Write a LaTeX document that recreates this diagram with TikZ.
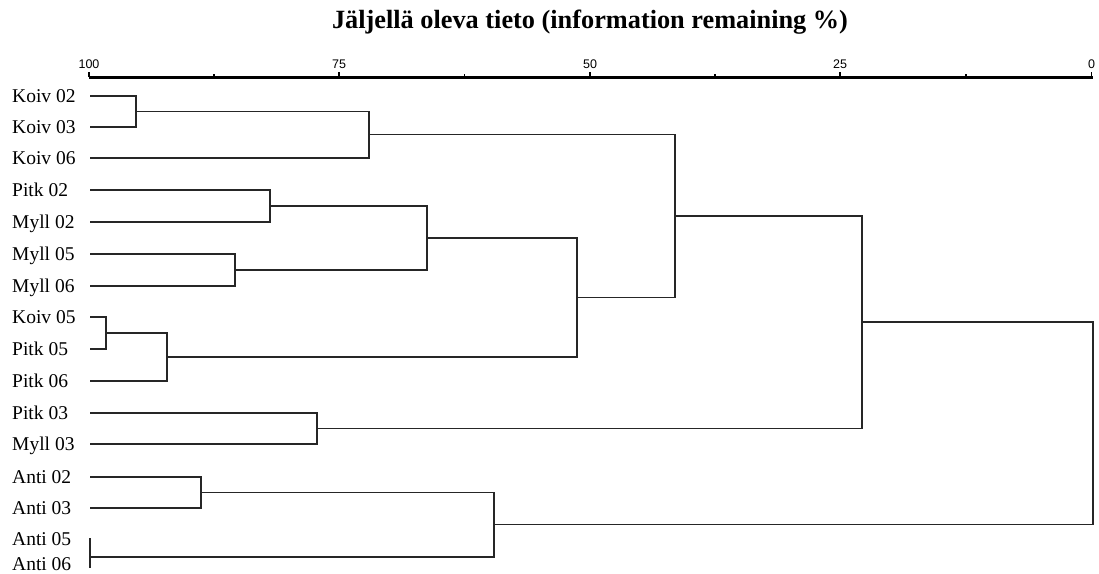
\documentclass[tikz,border=0pt]{standalone}
\usepackage{fontspec}
\setmainfont{Liberation Serif}
\newfontfamily\axisfont{Liberation Sans}
\begin{document}
\begin{tikzpicture}[x=1pt,y=-1pt,
  link/.style={draw=black!85,line width=1.4pt},
  leaflabel/.style={anchor=base west,inner sep=0pt,font=\fontsize{19.5}{19.5}\selectfont},
  ticklabel/.style={anchor=base,inner sep=0pt,font=\axisfont\fontsize{12.5}{12.5}\selectfont},
  titlelabel/.style={anchor=base,inner sep=0pt,font=\bfseries\fontsize{26.3}{26.3}\selectfont}]
\useasboundingbox (0,0) rectangle (1099,573);
% title
\node[titlelabel] (title) at (590,28) {Jäljellä oleva tieto (information remaining \%)};
% axis
\coordinate (ax0) at (89,77);
\coordinate (ax1) at (1093,77);
\draw[line width=3pt] (ax0) -- (ax1);
\foreach \x/\l [count=\i] in {89/100,339/75,590/50,840/25,1091.5/0}{
  \draw[line width=1.4pt] (\x,77) -- (\x,71.5);
  \node[ticklabel] (t\i) at (\x,68) {\l};
}
\foreach \x in {214,464.5,715,966}{
  \draw[line width=1.8pt] (\x,77) -- (\x,73.5);
}
% leaves
\foreach \n/\y/\t in {k2/96/Koiv 02,k3/127/Koiv 03,k6/158/Koiv 06,p2/190/Pitk 02,m2/222/Myll 02,
  m5/254/Myll 05,m6/286/Myll 06,k5/317/Koiv 05,p5/349/Pitk 05,p6/381/Pitk 06,
  p3/413/Pitk 03,m3/444/Myll 03,a2/477/Anti 02,a3/508/Anti 03}{
  \coordinate (\n) at (90,\y);
  \node[leaflabel] (L\n) at (12,\y+6.5) {\t};
}
\coordinate (a5) at (90,538);
\coordinate (a6) at (90,568);
\node[leaflabel] (La5) at (12,545) {Anti 05};
\node[leaflabel] (La6) at (12,570.5) {Anti 06};
% merges
\coordinate (A1) at (136,111.5);
\coordinate (A2) at (369,134.75);
\coordinate (B1) at (270,206);
\coordinate (B2) at (235,270);
\coordinate (B3) at (427,238);
\coordinate (C1) at (106,333);
\coordinate (C2) at (167,357);
\coordinate (D) at (577,297.5);
\coordinate (E) at (675,216);
\coordinate (F1) at (317,428.5);
\coordinate (G) at (862,322);
\coordinate (H1) at (201,492.5);
\coordinate (H2) at (90,557);
\coordinate (H3) at (494,524.5);
\coordinate (R) at (1093,423);
\foreach \a/\b/\m in {k2/k3/A1,A1/k6/A2,p2/m2/B1,m5/m6/B2,B1/B2/B3,k5/p5/C1,C1/p6/C2,
  B3/C2/D,A2/D/E,p3/m3/F1,E/F1/G,a2/a3/H1,H1/H2/H3,G/H3/R}{
  \draw[link] (\a) -- (\a -| \m) -- (\b -| \m) -- (\b);
}
\draw[link] (a5) -- (a6);
\end{tikzpicture}
\end{document}
